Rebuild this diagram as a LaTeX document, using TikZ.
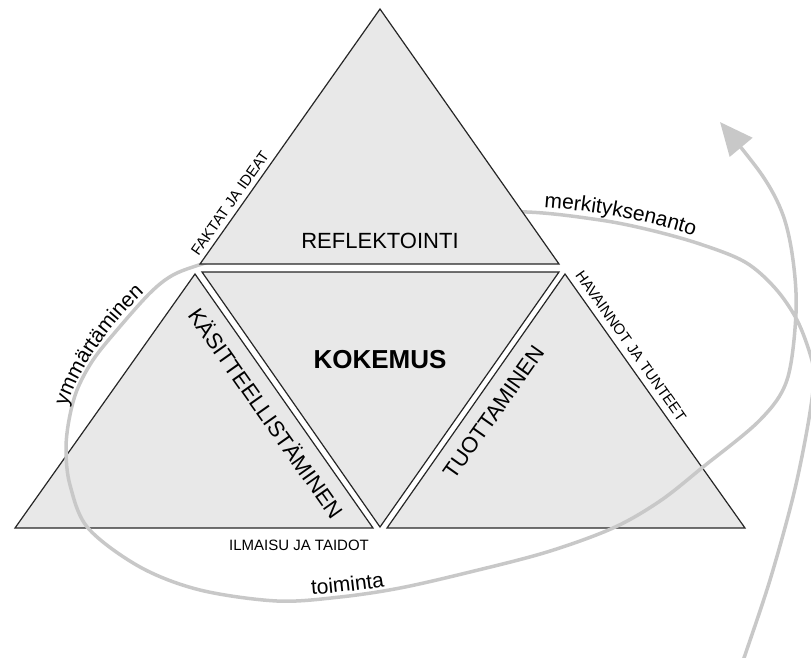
\documentclass[tikz,border=0pt]{standalone}
\usepackage{fontspec}
\setmainfont{Liberation Sans}
\usetikzlibrary{arrows.meta, decorations.text}
\usepackage{xcolor}

\definecolor{trifill}{HTML}{E8E8E8}
\definecolor{loopgray}{HTML}{C8C8C8}
\definecolor{edgegray}{HTML}{262626}
\newcommand{\looptxtfont}{\fontsize{21}{25}\selectfont}

\tikzset{
	tri/.style={draw=edgegray, fill=trifill, line width=1.2pt},
	bigtxt/.style={font=\fontsize{22}{26}\selectfont},
	smalltxt/.style={font=\fontsize{15}{18}\selectfont},
	cycleline/.style={draw=loopgray, line width=3.5pt, line cap=round},
	looptxt/.style={decorate, decoration={text along path, text align=center, text={#1}}}
}

\begin{document}
\begin{tikzpicture}[x=1pt, y=-1pt]
	\useasboundingbox (0,0) rectangle (811,657);
	\clip (0,0) rectangle (811,657);
	% corners of the four triangles
	\coordinate (T1) at (200,264);
	\coordinate (T2) at (559,264);
	\coordinate (T3) at (380,9);
	\coordinate (M1) at (202,272);
	\coordinate (M2) at (559,272);
	\coordinate (M3) at (380,527);
	\coordinate (L1) at (15,528);
	\coordinate (L2) at (373,528);
	\coordinate (L3) at (195,274);
	\coordinate (R1) at (387,528);
	\coordinate (R2) at (745,528);
	\coordinate (R3) at (565,274);
	\draw [tri] (L1) -- (L2) -- (L3) -- cycle;
	\draw [tri] (R1) -- (R2) -- (R3) -- cycle;
	\draw [tri] (M1) -- (M2) -- (M3) -- cycle;
	% the learning cycle
	\draw [cycleline, -{Triangle[length=33pt, width=29pt]}] plot [smooth, tension=0.55] coordinates {
		(738,675) (745,655) (770,580) (793,497) (807,430) (814,380) (811,357)
		(797,320) (775,288) (745,262) (700,244) (650,230) (600,220) (527,212)
		(440,214) (330,230) (240,253) (202,264) (173,275) (150,293) (117,330)
		(93,360) (77,390) (69,420) (66,450) (70,485) (88,528) (140,567) (200,590)
		(277,601) (340,597) (400,588) (470,572) (547,552) (613,528) (660,501)
		(703,467) (760,420) (787,380) (796,313) (793,260) (783,215) (762,175)
		(720,122)};
	\draw [tri] (T1) -- (T2) -- (T3) -- cycle;
	% words along the cycle
	\path [looptxt={|\looptxtfont|ymmärtäminen}]
		(62,445) .. controls (56,388) and (122,303) .. (175,268);
	\path [looptxt={|\looptxtfont|merkityksenanto}]
		(500,206) .. controls (575,205) and (670,222) .. (735,252);
	\path [looptxt={|\looptxtfont|toiminta}]
		(250,596) .. controls (290,599) and (390,590) .. (445,574);
	% labels
	\node (refl) [bigtxt] at (380,241) {REFLEKTOINTI};
	\node (koke) [font=\fontsize{26}{30}\selectfont\bfseries] at (380,360) {KOKEMUS};
	\node (kasi) [bigtxt, rotate=-54.8] at (267,413) {KÄSITTEELLISTÄMINEN};
	\node (tuot) [bigtxt, rotate=54.8] at (494,412) {TUOTTAMINEN};
	\node (fakt) [smalltxt, rotate=54.8] at (230,203) {FAKTAT JA IDEAT};
	\node (hava) [smalltxt, rotate=-54.8] at (631,346) {HAVAINNOT JA TUNTEET};
	\node (ilma) [smalltxt] at (299,545) {ILMAISU JA TAIDOT};
\end{tikzpicture}
\end{document}
